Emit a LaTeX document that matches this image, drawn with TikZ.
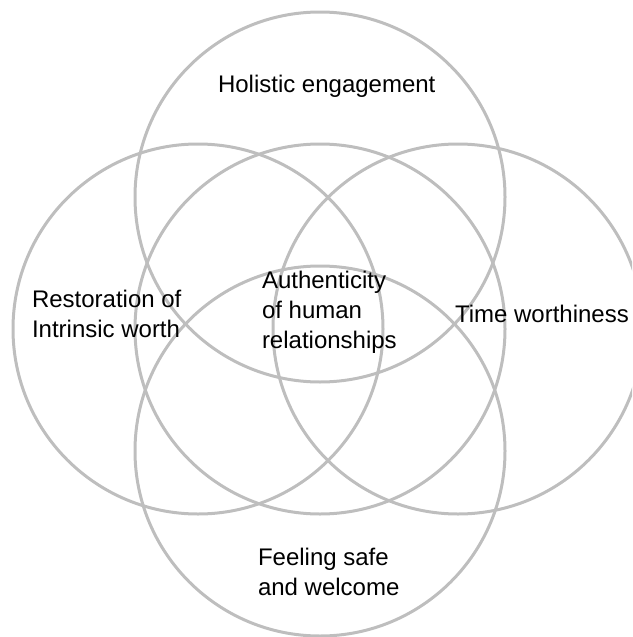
\documentclass[tikz,border=0pt]{standalone}
\usepackage{fontspec}
\setmainfont{Liberation Sans}
\begin{document}
\begin{tikzpicture}[x=1pt,y=-1pt,
  ring/.style={draw=ringgray,line width=3pt},
  label/.style={inner sep=0pt,outer sep=0pt,align=left,anchor=base west,
    font=\fontsize{24}{30}\selectfont}]
\definecolor{ringgray}{RGB}{190,190,190}
\useasboundingbox (0,0) rectangle (632,637);
\clip (0,0) rectangle (632,637);
% centres of the five overlapping circles
\coordinate (ctop) at (320,197);
\coordinate (cleft) at (198,329);
\coordinate (cmid) at (320,329);
\coordinate (cright) at (458,329);
\coordinate (cbottom) at (320,451);
\foreach \c in {ctop,cleft,cmid,cright,cbottom}
  \draw[ring] (\c) circle[radius=185];
% labels (base anchor sits on the last line of each label)
\node[label] (holistic) at (218,92) {Holistic engagement};
\node[label] (restoration) at (32,337) {Restoration of\\Intrinsic worth};
\node[label] (authenticity) at (262,348) {Authenticity\\of human\\relationships};
\node[label] (time) at (455,322) {Time worthiness};
\node[label] (safe) at (258,595) {Feeling safe\\and welcome};
\end{tikzpicture}
\end{document}
